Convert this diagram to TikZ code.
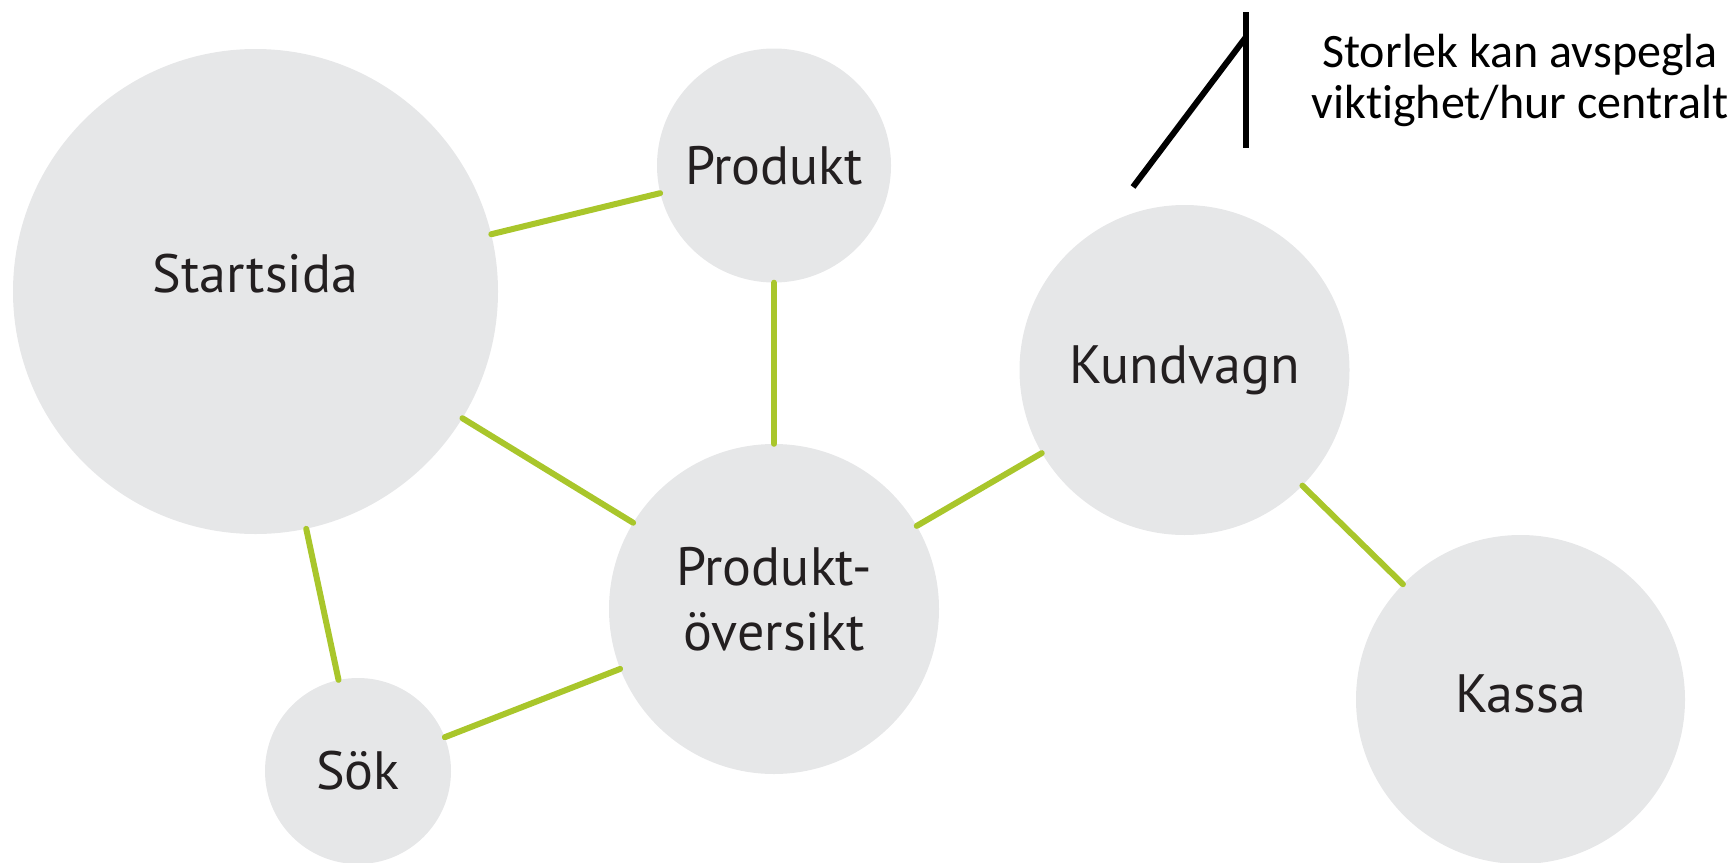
\documentclass[tikz,border=0pt]{standalone}
\usepackage{fontspec}
\newfontfamily\bubblefont{PT Sans}
\newfontfamily\notefont[Ligatures={NoCommon,NoRare,NoContextual}]{Carlito}
\definecolor{bubblegray}{HTML}{E6E7E8}
\definecolor{linkgreen}{HTML}{A9C62B}
\definecolor{inkblack}{HTML}{231F20}
\begin{document}
\begin{tikzpicture}
[x=1pt,y=-1pt,
  nodedecorate/.style={shape=circle,fill=bubblegray,inner sep=0pt,draw=none},%
  textdecorate/.style={align=center,text=inkblack,font=\bubblefont\fontsize{54}{65}\selectfont},%
  linedecorate/.style={-,line width=6pt,draw=linkgreen,line cap=round},%
  legenddecorate/.style={-,line width=6pt,draw=black}]
\useasboundingbox (0,0) rectangle (1731,862);
%% nodes or vertices
\foreach \nodename/\x/\y/\r/\dy/\txt in {startsida/255.5/291.5/242.5/18/Startsida,
  produkt/774/165.5/117/0/Produkt, oversikt/774/609/165/10/{Produkt-\\översikt},
  kundvagn/1184.5/370/165/0/Kundvagn, kassa/1520.5/699.5/164.5/6/Kassa,
  sok/358/771/93/0/Sök} {
  \node (\nodename) at (\x,\y) [nodedecorate,minimum size=2*\r pt,
    label={[textdecorate,yshift=\dy pt]center:\txt}] {};
}
%% edges or lines
\path
\foreach \startnode/\endnode in {startsida/produkt, produkt/oversikt,
  startsida/oversikt, startsida/sok, sok/oversikt, oversikt/kundvagn,
  kundvagn/kassa} {
  (\startnode) edge[linedecorate] (\endnode)
};
%% legend
\coordinate (legendtop) at (1246,12);
\coordinate (legendbottom) at (1246,148);
\coordinate (legendjoint) at (1246,37);
\coordinate (legendtail) at (1133,187);
\draw[legenddecorate] (legendtop) -- (legendbottom);
\draw[legenddecorate] (legendtail) -- (legendjoint);
\node (legendtext) at (1520,80) [align=center,text=black,
  font=\notefont\fontsize{48}{51}\selectfont] {Storlek kan avspegla\\vikt\kern0pt ighet/hur centralt};
\end{tikzpicture}
\end{document}
